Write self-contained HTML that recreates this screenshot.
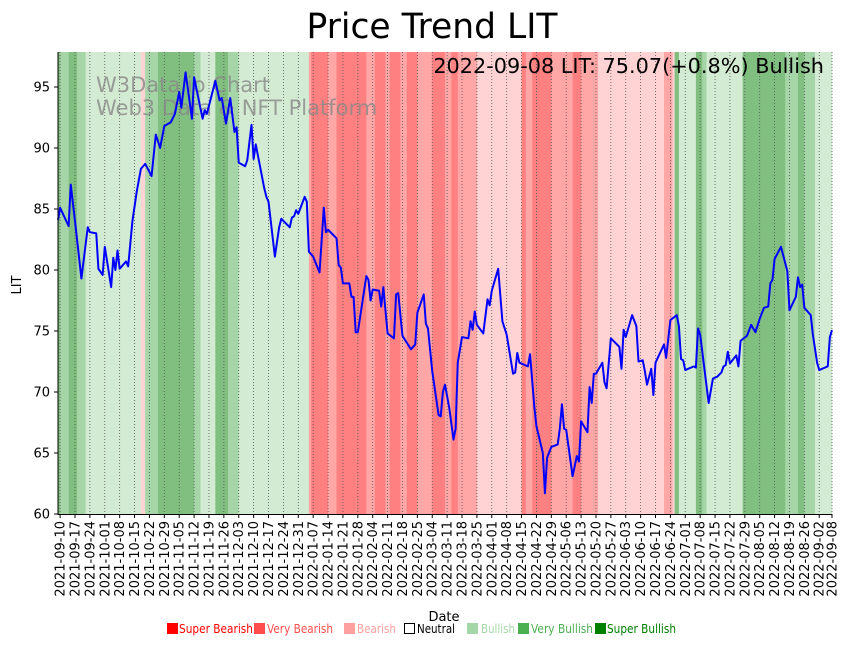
<!DOCTYPE html>
<html><head><meta charset="utf-8"><style>
body{margin:0;background:#fff;}
svg{display:block;font-family:"DejaVu Sans","Liberation Sans",sans-serif;}
</style></head><body>
<svg id="chart" width="851" height="646" viewBox="0 0 851 646">
<g id="bands"></g>
<g id="grid"></g>
<text x="96" y="92" font-size="21" fill="#888" fill-opacity="0.8">W3Data.io Chart</text>
<text x="96" y="115" font-size="21" fill="#888" fill-opacity="0.8">Web3 Data &amp; NFT Platform</text>
<path id="line" fill="none" stroke="#0000ff" stroke-width="2" stroke-linejoin="round"></path>
<line x1="58" y1="52" x2="58" y2="514.5" stroke="#000" stroke-width="1"/>
<line x1="57.5" y1="514.5" x2="832" y2="514.5" stroke="#000" stroke-width="1"/>
<g id="yticks"></g>
<g id="xticks"></g>
<text x="432" y="38" font-size="34.5" text-anchor="middle">Price Trend LIT</text>
<text x="824" y="73" font-size="20.8" text-anchor="end">2022-09-08 LIT: 75.07(+0.8%) Bullish</text>
<text transform="translate(21,285) rotate(-90)" font-size="13" text-anchor="middle">LIT</text>
<text x="444" y="621" font-size="13" text-anchor="middle">Date</text>
<g font-size="12.5">
<g><rect x="167" y="623" width="11" height="11" fill="#ff0000"/><text x="179" y="633" fill="#ff0000" textLength="74" lengthAdjust="spacingAndGlyphs">Super Bearish</text></g>
<g><rect x="254" y="623" width="11" height="11" fill="#ff4c4c"/><text x="267" y="633" fill="#ff4c4c" textLength="66" lengthAdjust="spacingAndGlyphs">Very Bearish</text></g>
<g><rect x="344" y="623" width="11" height="11" fill="#ffa0a0"/><text x="357" y="633" fill="#ffa0a0" textLength="39" lengthAdjust="spacingAndGlyphs">Bearish</text></g>
<g><rect x="404.5" y="623.5" width="10" height="10" fill="none" stroke="#000"/><text x="417" y="633" fill="#000" textLength="38" lengthAdjust="spacingAndGlyphs">Neutral</text></g>
<g><rect x="467" y="623" width="11" height="11" fill="#a5d6a7"/><text x="481" y="633" fill="#a5d6a7" textLength="34" lengthAdjust="spacingAndGlyphs">Bullish</text></g>
<g><rect x="518" y="623" width="11" height="11" fill="#4caf50"/><text x="531" y="633" fill="#4caf50" textLength="62" lengthAdjust="spacingAndGlyphs">Very Bullish</text></g>
<g><rect x="595" y="623" width="11" height="11" fill="#008000"/><text x="607" y="633" fill="#008000" textLength="69" lengthAdjust="spacingAndGlyphs">Super Bullish</text></g>
</g>
</svg>
<script>
// day offsets from 2021-09-09
const priceDays = [0,1,5,6,8,11,14,15,18,19,21,22,25,26,27,28,29,32,33,35,37,39,41,44,46,48,50,53,55,57,58,60,63,64,68,69,70,74,76,77,79,81,83,84,85,88,89,91,92,93,95,97,98,99,102,104,105,109,110,111,112,113,116,117,118,120,123,125,126,127,131,132,133,134,137,138,139,140,141,145,146,147,148,151,152,153,155,158,159,160,162,166,168,169,172,173,174,176,179,180,181,182,184,186,187,188,190,193,194,195,196,197,200,202,203,204,207,209,211,214,215,216,217,221,222,224,225,228,229,230,232,235,236,237,238,239,242,244,245,246,249,250,251,252,253,256,257,258,260,264,265,266,267,270,272,273,275,276,277,279,280,281,285,286,288,291,292,293,294,295,299,300,301,302,306,308,310,312,313,314,315,316,319,320,321,324,326,328,330,332,334,335,336,337,340,343,344,347,348,349,350,351,354,355,357,358,362,363,364];
const priceValues = [84.1,85.1,83.6,87.0,84.0,79.3,83.5,83.1,83.0,80.1,79.6,81.9,78.6,81.0,80.0,81.6,80.1,80.7,80.3,84.0,86.4,88.3,88.7,87.7,91.1,90.0,91.8,92.1,92.8,94.6,93.3,96.2,92.4,95.8,92.4,93.1,92.8,95.5,93.9,94.1,92.0,94.1,91.3,91.7,88.8,88.5,89.0,91.9,89.1,90.3,88.5,86.7,86.0,85.6,81.1,83.5,84.2,83.5,84.3,84.4,84.9,84.6,86.0,85.6,81.5,81.1,79.8,85.1,83.1,83.3,82.6,80.4,80.2,78.9,78.9,77.8,77.8,74.9,74.9,79.5,79.2,77.5,78.4,78.3,77.0,78.6,74.8,74.4,78.0,78.1,74.6,73.5,73.9,76.5,78.0,75.6,75.2,71.7,68.1,68.0,70.0,70.6,68.7,66.1,67.0,72.4,74.5,74.4,75.8,75.1,76.6,75.5,74.8,77.6,77.1,78.3,80.1,75.8,74.7,71.5,71.6,73.2,72.4,72.1,73.1,68.8,67.2,65.0,61.7,64.6,65.5,65.7,67.0,69.0,67.0,66.9,63.1,64.75,64.3,67.6,66.7,70.4,69.1,71.5,71.5,72.4,70.8,70.3,74.4,73.7,71.9,75.1,74.5,76.3,75.4,72.5,72.6,71.7,70.6,71.9,69.75,72.4,73.9,72.8,75.9,76.3,75.4,72.7,72.6,71.8,72.1,72.0,75.2,74.7,69.1,71.1,71.25,71.6,72.1,72.2,73.3,72.35,73.0,72.1,74.2,74.6,75.5,74.9,76.0,76.9,77.0,78.9,79.2,80.9,81.9,79.9,76.7,77.8,79.4,78.6,78.8,76.9,76.3,74.7,72.4,71.8,72.1,74.5,75.07];
// sentiment bands: start day, end day, level (-3..3)
const bandStarts = [0,1,5,9,13,39,41,47,64,67,74,80,85,118,119,127,131,145,149,154,156,161,164,169,176,182,185,188,197,218,220,223,232,242,246,254,285,289,290,292,300,303,305,322,342,348,351,356];
const bandEnds   = [1,5,9,13,39,41,47,64,67,74,80,85,118,119,127,131,145,149,154,156,161,164,169,176,182,185,188,197,218,220,223,232,242,246,254,285,289,290,292,300,303,305,322,342,348,351,356,364];
const bandLevels = [3,2,3,2,1,-1,2,3,2,1,3,2,1,-2,-3,-2,-3,-2,-3,-2,-3,-2,-3,-2,-3,-2,-3,-2,-1,-3,-2,-3,-2,-3,-2,-1,-2,-1,3,1,3,2,1,3,2,3,2,1];
const yTicks = [60,65,70,75,80,85,90,95];
const startDate = "2021-09-09";
const totalDays = 364;

const NS = "http://www.w3.org/2000/svg";
const X0 = 58, X1 = 832, Y0 = 514, YTOP = 52;
const xs = d => X0 + (X1 - X0) * d / totalDays;
const ys = v => Y0 - (v - 60) * 12.2;
const levelColor = {"-3":"#ff8080","-2":"#ffa6a6","-1":"#ffd3d3","0":"#ffffff","1":"#d3ebd3","2":"#a6d6a8","3":"#80bf80"};

const bandG = document.getElementById('bands');
bandStarts.forEach((s, i) => {
  const r = document.createElementNS(NS, 'rect');
  r.setAttribute('x', xs(s));
  r.setAttribute('y', YTOP);
  r.setAttribute('width', xs(bandEnds[i]) - xs(s) + 0.3);
  r.setAttribute('height', Y0 - YTOP);
  r.setAttribute('fill', levelColor[String(bandLevels[i])]);
  
  
  bandG.appendChild(r);
});

let d = '';
priceDays.forEach((day, i) => { d += (i ? 'L' : 'M') + xs(day).toFixed(2) + ',' + ys(priceValues[i]).toFixed(2); });
document.getElementById('line').setAttribute('d', d);

const yg = document.getElementById('yticks');
yTicks.forEach(v => {
  const y = ys(v);
  const l = document.createElementNS(NS, 'line');
  l.setAttribute('x1', 54); l.setAttribute('x2', 58); l.setAttribute('y1', y); l.setAttribute('y2', y);
  l.setAttribute('stroke', '#000');
  
  
  yg.appendChild(l);
  const t = document.createElementNS(NS, 'text');
  t.setAttribute('x', 50); t.setAttribute('y', y + 4.5);
  t.setAttribute('text-anchor', 'end'); t.setAttribute('font-size', '13');
  t.textContent = v;
  
  
  yg.appendChild(t);
});

const tickDays = [];
for (let k = 1; k <= 358; k += 7) tickDays.push(k);
tickDays.push(364);
const base = new Date(startDate + "T00:00:00Z");
const xg = document.getElementById('xticks');
const gg = document.getElementById('grid');
tickDays.forEach(day => {
  const x = xs(day);
  const dt = new Date(base.getTime() + day * 86400000);
  const label = dt.toISOString().slice(0, 10);
  const g = document.createElementNS(NS, 'line');
  g.setAttribute('x1', x); g.setAttribute('x2', x); g.setAttribute('y1', YTOP); g.setAttribute('y2', Y0);
  g.setAttribute('stroke', '#555'); g.setAttribute('stroke-width', '0.8'); g.setAttribute('stroke-dasharray', '1,2');
  
  
  gg.appendChild(g);
  const l = document.createElementNS(NS, 'line');
  l.setAttribute('x1', x); l.setAttribute('x2', x); l.setAttribute('y1', 514); l.setAttribute('y2', 518);
  l.setAttribute('stroke', '#000');
  
  
  xg.appendChild(l);
  const t = document.createElementNS(NS, 'text');
  t.setAttribute('transform', 'translate(' + (x + 4.5) + ',521) rotate(-90)');
  t.setAttribute('text-anchor', 'end'); t.setAttribute('font-size', '13');
  t.textContent = label;
  
  
  xg.appendChild(t);
});
</script>
</body></html>
